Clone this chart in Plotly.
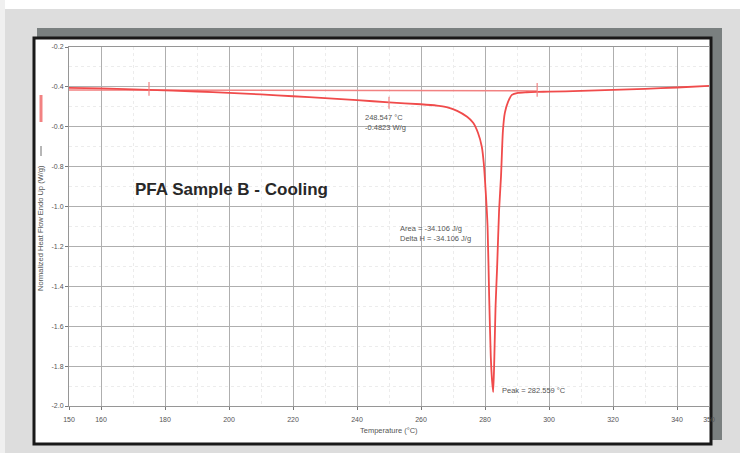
import plotly.graph_objects as go

# ---- data ----
temp = [150, 160, 175, 190, 200, 210, 220, 230, 240, 250, 260, 265, 268,
        271.3, 274.4, 276.3, 277.8, 279.0, 279.6, 280.2, 280.8, 281.3, 281.8,
        282.2, 282.56, 282.9, 283.3, 283.8, 284.4, 285.0, 285.6, 286.2, 287.2,
        288.4, 290.3, 293, 296.3, 300, 310, 320, 330, 340, 350]
heat_flow = [-0.405, -0.407, -0.415, -0.423, -0.43, -0.438, -0.447, -0.456,
             -0.466, -0.478, -0.487, -0.494, -0.502, -0.52, -0.55, -0.58, -0.63,
             -0.70, -0.78, -0.92, -1.1, -1.45, -1.75, -1.87, -1.93, -1.77,
             -1.5, -1.3, -1.02, -0.85, -0.62, -0.53, -0.475, -0.44, -0.43,
             -0.427, -0.425, -0.424, -0.42, -0.415, -0.41, -0.403, -0.395]

baseline_temp = [150, 296.3]
baseline_heat = [-0.415, -0.42]

limit_temps = [175.0, 296.3]
limit_heats = [-0.41, -0.415]
onset_temp = 250.0
onset_heat = -0.48
peak_temp = 282.559

x_ticks = [150, 160, 180, 200, 220, 240, 260, 280, 300, 320, 340, 350]
y_ticks = [-0.2, -0.4, -0.6, -0.8, -1.0, -1.2, -1.4, -1.6, -1.8, -2.0]

RED = "rgb(240,75,75)"
LIGHTRED = "rgb(242,130,130)"
TXT = "rgb(85,85,85)"
FONT = "Liberation Sans"

fig = go.Figure()

fig.add_trace(go.Scatter(x=baseline_temp, y=baseline_heat, mode="lines",
                         line=dict(color=LIGHTRED, width=1.5), hoverinfo="skip"))
fig.add_trace(go.Scatter(x=temp, y=heat_flow, mode="lines",
                         line=dict(color=RED, width=1.8, shape="spline", smoothing=0.6)))

# small vertical tick marks on curve (integration limits and onset)
seg_x, seg_y = [], []
for t, h in zip(limit_temps, limit_heats):
    seg_x += [t, t, None]
    seg_y += [h + 0.035, h - 0.035, None]
seg_x += [onset_temp, onset_temp, None]
seg_y += [onset_heat + 0.03, onset_heat - 0.03, None]
fig.add_trace(go.Scatter(x=seg_x, y=seg_y, mode="lines",
                         line=dict(color=LIGHTRED, width=1.2), hoverinfo="skip"))

# ---- layout geometry (pixel helpers for decoration) ----
W, H = 740, 453
L, R, T, B = 69, 31, 47, 47
pw, ph = W - L - R, H - T - B


def px(x):
    return (x - L) / pw


def py(y):
    return (H - B - y) / ph


shapes = [
    # white strip at top
    dict(type="rect", xref="paper", yref="paper", x0=px(0), x1=px(740), y0=py(9), y1=py(0),
         fillcolor="white", line=dict(width=0), layer="below"),
    dict(type="rect", xref="paper", yref="paper", x0=px(0), x1=px(5), y0=py(453), y1=py(0),
         fillcolor="rgb(240,240,240)", line=dict(width=0), layer="below"),
    # shadow
    dict(type="rect", xref="paper", yref="paper", x0=px(37), x1=px(722), y0=py(440), y1=py(28),
         fillcolor="rgb(122,128,128)", line=dict(width=0), layer="below"),
    # white panel with black border
    dict(type="rect", xref="paper", yref="paper", x0=px(34), x1=px(711), y0=py(444), y1=py(38),
         fillcolor="white", line=dict(color="rgb(25,25,25)", width=3), layer="below"),
    # legend-ish marks by y title
    dict(type="line", xref="paper", yref="paper", x0=px(41), x1=px(41), y0=py(95), y1=py(122),
         line=dict(color=LIGHTRED, width=3)),
    dict(type="line", xref="paper", yref="paper", x0=px(41), x1=px(41), y0=py(146), y1=py(156),
         line=dict(color="rgb(110,110,110)", width=1)),
]

annotations = [
    dict(x=170, y=-0.915, xref="x", yref="y", text="<b>PFA Sample B - Cooling</b>",
         showarrow=False, xanchor="left", yanchor="middle",
         font=dict(family=FONT, size=17, color="rgb(40,40,40)")),
    dict(x=241.9, y=-0.58, xref="x", yref="y", text="248.547 °C<br>-0.4823 W/g",
         showarrow=False, xanchor="left", yanchor="middle", align="left",
         font=dict(family=FONT, size=7.5, color=TXT)),
    dict(x=252.8, y=-1.135, xref="x", yref="y", text="Area = -34.106 J/g<br>Delta H = -34.106 J/g",
         showarrow=False, xanchor="left", yanchor="middle", align="left",
         font=dict(family=FONT, size=7.5, color=TXT)),
    dict(x=284.7, y=-1.92, xref="x", yref="y", text=f"Peak = {peak_temp:.3f} °C",
         showarrow=False, xanchor="left", yanchor="middle", align="left",
         font=dict(family=FONT, size=7.5, color=TXT)),
    dict(x=px(41), y=py(228), xref="paper", yref="paper",
         text="Normalized Heat Flow Endo Up (W/g)", textangle=-90, showarrow=False,
         xanchor="center", yanchor="middle", font=dict(family=FONT, size=7.5, color=TXT)),
    dict(x=px(389), y=py(430), xref="paper", yref="paper", text="Temperature (°C)",
         showarrow=False, xanchor="center", yanchor="middle",
         font=dict(family=FONT, size=7.5, color=TXT)),
]

fig.update_layout(
    width=W, height=H,
    margin=dict(l=L, r=R, t=T, b=B),
    paper_bgcolor="rgb(221,221,221)",
    plot_bgcolor="white",
    showlegend=False,
    shapes=shapes,
    annotations=annotations,
    font=dict(family=FONT, size=7, color=TXT),
)

fig.update_xaxes(
    range=[150, 350], tickvals=x_ticks, ticktext=[str(v) for v in x_ticks],
    showgrid=True, gridcolor="rgb(175,175,175)", gridwidth=1,
    showline=True, linecolor="rgb(150,150,150)", linewidth=1, mirror=True,
    ticks="outside", ticklen=3, tickcolor="rgb(120,120,120)",
    ticklabelstandoff=4,
    tickfont=dict(family=FONT, size=7, color=TXT), zeroline=False,
    minor=dict(dtick=10, showgrid=True, gridcolor="rgb(236,236,236)", griddash="dot"),
)
fig.update_yaxes(
    range=[-2.0, -0.2], tickvals=y_ticks, ticktext=[f"{v:.1f}" for v in y_ticks],
    showgrid=True, gridcolor="rgb(175,175,175)", gridwidth=1,
    showline=True, linecolor="rgb(150,150,150)", linewidth=1, mirror=True,
    ticks="outside", ticklen=3, tickcolor="rgb(120,120,120)",
    tickfont=dict(family=FONT, size=7, color=TXT), zeroline=False,
    minor=dict(dtick=0.1, showgrid=True, gridcolor="rgb(236,236,236)", griddash="dot"),
)

fig.write_html("out.html", config={"displayModeBar": False},
               post_script="document.body.style.margin='0';document.body.style.overflow='hidden';")
